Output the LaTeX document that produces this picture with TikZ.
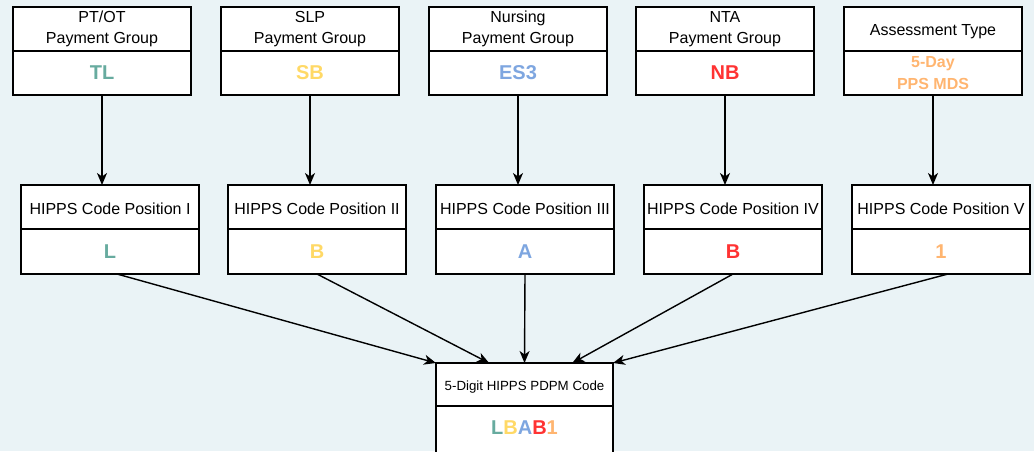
\documentclass[tikz,border=0pt]{standalone}
\usepackage{fontspec}
\setmainfont{Liberation Sans}
\usetikzlibrary{arrows.meta,calc}

\definecolor{bgc}{HTML}{EAF3F6}
\definecolor{cteal}{HTML}{67AB9F}
\definecolor{cyellow}{HTML}{FFD966}
\definecolor{cblue}{HTML}{7EA6E0}
\definecolor{cred}{HTML}{FF3333}
\definecolor{corange}{HTML}{FFB570}

\tikzset{
  frame/.style={draw=black, fill=white, line width=1.5pt},
  cell/.style={frame, minimum width=178pt, outer sep=0pt,
    inner sep=0pt, align=center, anchor=north west},
  % a taller first line nudges the caption a little lower in its cell
  hdr/.style={cell, minimum height=44pt, font=\fontsize{16}{21}\selectfont,
    execute at begin node={\rule{0pt}{15.5pt}}},
  val/.style={cell, minimum height=44pt, font=\bfseries\fontsize{20}{24}\selectfont},
  link/.style={line width=1.4pt, -{Stealth[length=12pt,width=10pt,inset=3.5pt]}},
}

\begin{document}
\begin{tikzpicture}[x=1pt,y=-1pt]
  \fill[bgc] (0,0) rectangle (1034,451);
  \clip (0,0) rectangle (1034,451);
  \useasboundingbox (0,0) rectangle (1034,451);

  % source groups
  \node[hdr] (t1h) at (13,7)  {PT/OT\\Payment Group};
  \node[val, text=cteal] (t1v) at (13,51) {TL};
  \node[hdr] (t2h) at (221,7) {SLP\\Payment Group};
  \node[val, text=cyellow] (t2v) at (221,51) {SB};
  \node[hdr] (t3h) at (429,7) {Nursing\\Payment Group};
  \node[val, text=cblue] (t3v) at (429,51) {ES3};
  \node[hdr] (t4h) at (636,7) {NTA\\Payment Group};
  \node[val, text=cred] (t4v) at (636,51) {NB};
  \node[hdr] (t5h) at (844,7) {Assessment Type};
  \node[val, text=corange, font=\bfseries\fontsize{16}{22}\selectfont,
    execute at begin node={\rule{0pt}{14.5pt}}] (t5v) at (844,51) {5-Day\\PPS MDS};

  % HIPPS code positions
  \node[hdr] (m1h) at (21,185)  {HIPPS Code Position I};
  \node[val, minimum height=45pt, text=cteal] (m1v) at (21,229) {L};
  \node[hdr] (m2h) at (228,185) {HIPPS Code Position II};
  \node[val, minimum height=45pt, text=cyellow] (m2v) at (228,229) {B};
  \node[hdr] (m3h) at (436,185) {HIPPS Code Position III};
  \node[val, minimum height=45pt, text=cblue] (m3v) at (436,229) {A};
  \node[hdr] (m4h) at (644,185) {HIPPS Code Position IV};
  \node[val, minimum height=45pt, text=cred] (m4v) at (644,229) {B};
  \node[hdr] (m5h) at (852,185) {HIPPS Code Position V};
  \node[val, minimum height=45pt, text=corange] (m5v) at (852,229) {1};

  % resulting code (its lower cell runs past the bottom edge)
  \node[hdr, minimum width=177pt, minimum height=43pt, font=\fontsize{13.3}{16}\selectfont,
    execute at begin node={\rule{0pt}{12pt}}] (bh) at (436,363) {5-Digit HIPPS PDPM Code};
  \draw[frame] (bh.south west) rectangle ++(177,60);
  \node[font=\bfseries\fontsize{20}{24}\selectfont, inner sep=0pt] (code) at ($(bh.south)+(0,22)$)
    {\textcolor{cteal}{L}\textcolor{cyellow}{B}\textcolor{cblue}{A}\textcolor{cred}{B}\textcolor{corange}{1}};

  % group -> position
  \foreach \i in {1,...,5}
    \draw[link] (t\i v.south) -- (t\i v.south |- m\i h.north);

  % position -> code
  \draw[link] ([xshift=7pt]m1v.south) -- (bh.north west);
  \draw[link] (m2v.south) -- ($(bh.north west)!0.3!(bh.north east)$);
  \draw[link] (m3v.south) -- (bh.north);
  \draw[link] (m4v.south) -- ($(bh.north west)!0.77!(bh.north east)$);
  \draw[link] ([xshift=7pt]m5v.south) -- (bh.north east);
\end{tikzpicture}
\end{document}
